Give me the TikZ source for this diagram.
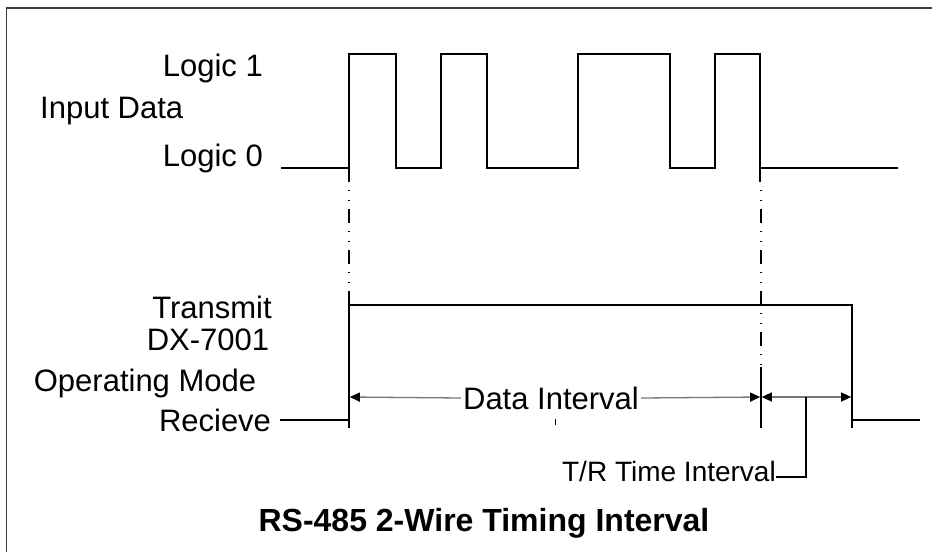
\documentclass[tikz,border=0pt]{standalone}
\usepackage{fontspec}
\setmainfont{Liberation Sans}
\usetikzlibrary{arrows.meta}
\definecolor{dimgray}{RGB}{120,120,120}
\definecolor{framegray}{RGB}{60,60,60}
\begin{document}
\begin{tikzpicture}[x=1pt,y=-1pt,
  wave/.style={line width=1.8pt,black,line join=miter},
  dashdot/.style={line width=1.6pt,black,dash pattern=on 13.4pt off 8.6pt on 0.9pt off 8.6pt on 0.9pt off 8.6pt,dash phase=13.8pt},
  dimline/.style={line width=1.3pt,dimgray},
  tip/.style={-{Triangle[length=10pt,width=9pt,color=black]}},
  leader/.style={line width=1.4pt,black},
  lbl/.style={font=\fontsize{31}{32}\selectfont,inner sep=0pt},
  ttl/.style={font=\fontsize{32}{34}\selectfont\bfseries,inner sep=0pt}]
\useasboundingbox (0,0) rectangle (932,552);
% frame
\draw[line width=1.6pt,framegray] (6.5,552) -- (6.5,8) -- (932,8);

% key coordinates
\coordinate (i0) at (281,168);
\coordinate (r1) at (349,168);
\coordinate (f5) at (760,168);
\coordinate (iend) at (898,168);
\coordinate (rc0) at (280,420);
\coordinate (tx0) at (349,420);
\coordinate (tx1) at (852,420);
\coordinate (rcend) at (920,420);

% input data waveform
\draw[wave] (i0) -- (r1) |- (396,54) |- (441,168) |- (487,54) |- (578,168) |- (670,54) |- (715,168) |- (f5 |- 0,54) -- (f5) -- (iend);
\draw[wave] (r1) -- (349,182);
\draw[wave] (f5) -- (760,182);

% dash-dot extension lines
\draw[dashdot] (349,182) -- (349,305);
\draw[dashdot] (761,182) -- (761,367);
\draw[leader] (761,367) -- (761,428);

% operating mode waveform
\draw[wave] (rc0) -- (tx0) |- (852,305) -- (tx1) -- (rcend);
\draw[wave] (tx0) -- (349,428);
\draw[wave] (tx1) -- (852,428);
\draw[line width=1pt] (555,419) -- (555,425);

% dimension lines
\node[lbl,fill=white,inner xsep=2pt,inner ysep=4pt] (di) at (551,398) {Data Interval};
\draw[dimline,tip] (di.west) -- (349.8,397);
\draw[dimline,tip] (di.east) -- (760.2,397);
\coordinate (trm) at (806,397);
\draw[dimline,tip] (trm) -- (761.8,397);
\draw[dimline,tip] (trm) -- (851.2,397);
\coordinate (trc) at (806,477);
\node[lbl,font=\fontsize{28}{30}\selectfont,anchor=east] (tr) at (776,471) {T/R Time Interval};
\draw[leader] (trm) -- (trc) -- (tr.east |- trc);

% labels
\node[lbl,anchor=east] (l1) at (263,68) {Logic 1};
\node[lbl,anchor=west] (id) at (40,111) {Input Data};
\node[lbl,anchor=east] (l0) at (263,158) {Logic 0};
\node[lbl] (tm) at (212,307) {Transmit};
\node[lbl] (dx) at (208,340) {DX-7001};
\node[lbl] (om) at (145,383) {Operating Mode};
\node[lbl] (rv) at (215,420) {Recieve};
\node[ttl] (title) at (484,523) {RS-485 2-Wire Timing Interval};
\end{tikzpicture}
\end{document}
